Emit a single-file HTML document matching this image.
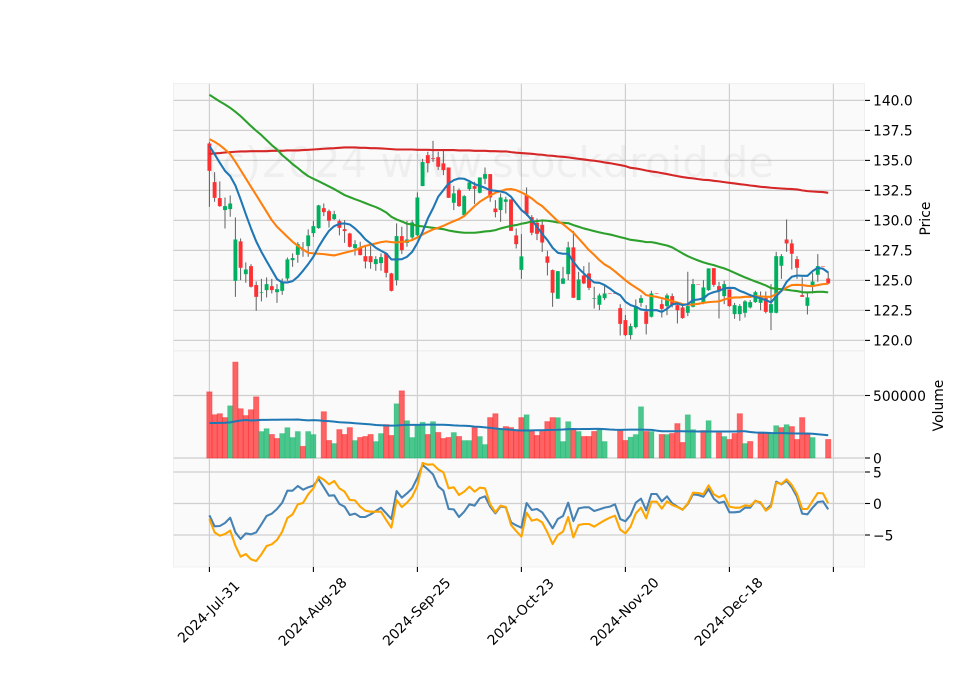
<!DOCTYPE html>
<html lang="en">
<head>
<meta charset="utf-8">
<title>Stock chart</title>
<style>
html,body{margin:0;padding:0;background:#fff;}
svg{display:block;}
text{font-family:"DejaVu Sans","Liberation Sans",sans-serif;font-size:13.89px;fill:#000;}
</style>
</head>
<body>
<svg id="chart" xmlns="http://www.w3.org/2000/svg" width="960" height="690" viewBox="0 0 960 690">
  <rect x="0" y="0" width="960" height="690" fill="#ffffff"/>
  <rect x="173.5" y="83.5" width="691" height="267" fill="#fafafa" stroke="#f0f0f0"/>
  <rect x="173.5" y="351" width="691" height="107" fill="#fafafa" stroke="#f0f0f0"/>
  <rect x="173.5" y="458.5" width="691" height="108.5" fill="#fafafa" stroke="#f0f0f0"/>
  <g id="grid"></g>
  <text x="774" y="177" text-anchor="end" style="font-size:41.67px;fill:rgba(0,0,0,0.045)">(c)2024 www.stockdroid.de</text>
  <g id="volumes"></g>
  <g id="candles"></g>
  <g id="lines"></g>
  <g id="axes"></g>
  <text x="926" y="218.5" text-anchor="middle" dominant-baseline="central" transform="rotate(-90 926 218.5)">Price</text>
  <text x="939" y="405.5" text-anchor="middle" dominant-baseline="central" transform="rotate(-90 939 405.5)">Volume</text>
</svg>
<script>
const dateTickIndex = [0, 20, 40, 60, 80, 100, 120];
const dateTickLabels = ["2024-Jul-31", "2024-Aug-28", "2024-Sep-25", "2024-Oct-23", "2024-Nov-20", "2024-Dec-18", ""];
const priceTicks = [140, 137.5, 135, 132.5, 130, 127.5, 125, 122.5, 120];
const priceTickLabels = ["140.0", "137.5", "135.0", "132.5", "130.0", "127.5", "125.0", "122.5", "120.0"];
const volumeTicks = [500000, 0];
const volumeTickLabels = ["500000", "0"];
const macdTicks = [5, 0, -5];
const macdTickLabels = ["5", "0", "\u22125"];

const open = [
136.41,133.19,131.86,130.86,130.94,124.97,128.25,125.52,126.19,124.61,
123.97,124.19,124.52,124.02,124.13,125.16,126.69,127.13,127.58,127.86,
128.94,129.36,131.02,130.77,130.11,129.94,129.27,128.91,127.69,127.72,
127.02,127.02,126.36,126.44,127.25,125.58,125.02,128.69,128.13,128.58,
128.77,132.86,135.44,135.19,135.27,134.75,134.41,131.47,132.52,130.44,
132.61,132.86,132.30,133.47,133.86,130.99,130.86,131.55,131.75,128.75,
125.88,132.11,130.27,129.80,129.63,127.00,125.86,123.47,124.72,125.52,
127.75,123.36,125.41,125.58,123.47,122.97,123.52,123.92,123.92,122.69,
121.69,120.44,121.11,123.13,122.41,121.97,123.92,123.02,122.86,123.69,
122.94,122.75,122.30,122.80,124.70,123.08,124.19,126.02,124.52,123.69,
124.25,122.19,122.19,122.30,122.75,123.19,123.13,123.52,122.30,122.30,
126.22,128.41,128.08,126.77,123.77,122.88,124.52,125.47,126.18,125.16];
const close = [
134.13,131.88,131.19,131.19,131.41,128.41,126.05,125.91,124.47,123.63,
124.02,124.69,124.19,124.27,124.88,126.75,126.86,128.02,127.52,128.75,
129.52,131.25,130.69,129.97,130.52,129.38,129.11,127.80,128.02,127.11,
126.58,126.52,126.77,126.94,125.63,124.13,128.69,127.52,128.41,129.83,
131.91,134.86,134.77,135.13,134.47,134.19,131.88,132.25,131.19,132.02,
133.16,132.63,133.58,133.86,131.91,130.69,131.91,131.75,129.13,128.02,
127.00,130.52,128.97,128.88,128.16,126.47,123.97,125.77,125.16,127.75,
123.55,125.08,124.75,124.38,123.52,123.75,123.91,123.90,123.90,121.38,
120.44,121.19,122.86,123.52,121.38,123.91,123.90,122.63,123.75,122.94,
122.52,121.86,122.86,124.69,124.68,124.41,126.00,124.63,124.08,124.69,
122.86,122.94,122.86,123.25,123.19,124.02,123.63,122.38,123.02,127.02,
127.02,128.08,127.22,126.05,123.63,123.58,124.91,126.19,126.16,124.75];
const high = [
136.55,134.02,133.25,131.91,132.08,130.25,128.50,126.50,126.36,124.91,
125.13,125.25,125.13,124.69,125.16,126.91,127.25,128.19,128.19,129.25,
129.97,131.30,131.41,130.91,130.80,130.08,130.02,128.97,128.36,128.22,
127.86,127.86,127.02,127.25,127.30,125.63,129.75,129.47,129.97,130.02,
132.33,135.13,135.72,136.63,135.72,135.80,134.41,132.88,132.66,132.11,
133.36,133.22,133.58,134.41,133.86,131.69,132.25,131.97,131.75,129.33,
128.86,132.75,130.44,130.16,130.08,127.47,125.91,125.77,126.13,128.22,
129.13,125.72,126.19,126.50,124.47,123.91,124.61,123.92,123.92,123.02,
122.11,121.41,123.41,123.77,122.94,124.13,123.92,123.41,123.91,123.91,
123.22,122.94,125.72,125.13,124.70,125.02,126.00,126.02,124.88,124.97,
124.25,123.13,123.02,123.36,123.36,124.13,124.08,124.08,124.69,127.38,
127.19,130.08,128.41,127.02,125.25,123.91,125.63,127.19,126.18,125.72];
const low = [
131.13,131.55,131.13,129.33,130.30,123.63,125.02,124.80,124.41,122.47,
123.25,123.58,123.91,123.13,123.80,124.97,126.13,126.47,126.97,126.97,
128.63,129.30,130.36,129.41,130.02,128.75,128.13,127.75,127.08,127.08,
126.00,125.97,125.80,125.80,125.25,124.08,124.58,127.19,127.80,128.36,
128.69,132.86,134.00,134.88,134.19,133.77,131.88,130.86,131.13,130.36,
132.47,131.36,132.25,133.02,131.55,130.25,129.88,130.58,129.13,127.66,
125.13,130.36,128.77,128.36,127.36,125.41,122.80,123.47,124.69,125.02,
123.55,123.36,124.69,124.19,122.66,122.52,123.36,123.90,123.90,120.41,
120.36,120.08,121.00,122.80,120.50,121.91,123.90,121.91,122.11,122.75,
121.41,121.80,122.02,122.75,124.68,123.02,124.13,124.47,121.83,123.02,
122.80,121.80,121.63,121.91,122.66,123.13,122.52,122.25,120.86,122.25,
125.13,127.38,125.91,125.13,123.63,122.16,123.91,124.88,126.16,124.69];

const maFast = [
136.19,135.52,134.80,134.13,133.69,132.91,131.75,130.52,129.33,128.25,
127.38,126.61,125.86,125.11,124.83,124.83,124.94,125.30,125.80,126.36,
126.97,127.80,128.50,129.13,129.52,129.72,129.75,129.66,129.33,128.91,
128.41,128.08,127.72,127.47,127.25,126.75,126.75,126.77,126.97,127.38,
128.13,129.05,130.16,131.00,131.97,132.52,133.08,133.36,133.50,133.47,
133.27,133.02,132.88,132.72,132.52,132.47,132.41,132.30,131.97,131.41,
130.86,130.52,130.02,129.47,128.86,128.36,127.72,127.30,127.22,127.22,
126.55,126.00,125.58,125.16,124.83,124.80,124.61,124.33,124.00,123.77,
123.22,122.94,122.80,122.58,122.52,122.52,122.52,122.38,122.63,122.99,
123.08,122.94,123.02,123.36,123.41,123.50,123.86,124.02,124.13,124.33,
124.38,124.36,124.13,123.97,123.77,123.63,123.50,123.36,123.16,123.69,
124.13,124.88,125.30,125.41,125.38,125.38,125.77,126.05,125.97,125.66];
const maMid = [
136.77,136.55,136.27,135.91,135.52,134.88,134.19,133.50,132.80,132.11,
131.41,130.72,130.02,129.47,129.05,128.63,128.22,127.88,127.58,127.30,
127.25,127.22,127.19,127.13,127.08,127.19,127.30,127.41,127.52,127.72,
127.88,127.97,128.08,128.19,128.25,128.19,128.16,128.22,128.25,128.36,
128.58,128.83,129.05,129.25,129.38,129.55,129.75,129.94,130.11,130.36,
130.77,131.19,131.55,131.83,132.08,132.30,132.44,132.58,132.61,132.52,
132.33,132.11,131.83,131.47,131.19,130.77,130.36,129.94,129.69,129.33,
128.97,128.50,128.02,127.52,127.13,126.69,126.33,126.08,125.75,125.38,
125.02,124.69,124.41,124.13,123.77,123.69,123.63,123.52,123.41,123.27,
123.16,123.02,122.97,122.99,123.05,123.13,123.19,123.22,123.25,123.41,
123.52,123.58,123.58,123.63,123.63,123.69,123.66,123.63,123.63,123.86,
124.13,124.41,124.61,124.63,124.61,124.55,124.52,124.61,124.69,124.72];
const maSlow = [
140.47,140.19,139.91,139.66,139.38,139.05,138.69,138.27,137.86,137.47,
137.11,136.69,136.27,135.91,135.44,135.08,134.69,134.36,134.00,133.69,
133.47,133.27,133.05,132.83,132.61,132.36,132.11,131.94,131.77,131.61,
131.44,131.27,131.11,130.91,130.66,130.30,130.08,129.91,129.72,129.66,
129.55,129.50,129.44,129.38,129.33,129.27,129.16,129.08,129.02,128.97,
128.97,128.97,129.02,129.08,129.11,129.19,129.33,129.44,129.55,129.61,
129.72,129.80,129.91,129.94,130.00,129.97,129.91,129.83,129.80,129.77,
129.61,129.47,129.33,129.22,129.11,129.00,128.91,128.83,128.72,128.61,
128.50,128.38,128.33,128.27,128.19,128.19,128.11,128.00,127.91,127.75,
127.50,127.25,127.02,126.83,126.66,126.50,126.38,126.27,126.13,126.00,
125.83,125.63,125.44,125.25,125.08,124.91,124.75,124.58,124.36,124.30,
124.27,124.22,124.16,124.11,124.02,124.00,124.02,124.05,124.05,124.00];
const maLong = [
135.55,135.58,135.61,135.66,135.69,135.72,135.75,135.75,135.77,135.77,
135.77,135.77,135.80,135.80,135.80,135.83,135.83,135.83,135.86,135.88,
135.91,135.94,135.97,136.00,136.02,136.05,136.08,136.08,136.08,136.05,
136.05,136.02,136.02,136.00,135.97,135.94,135.91,135.91,135.91,135.91,
135.88,135.88,135.88,135.86,135.86,135.86,135.86,135.86,135.83,135.83,
135.83,135.80,135.80,135.80,135.77,135.77,135.75,135.75,135.69,135.64,
135.61,135.58,135.55,135.50,135.47,135.41,135.38,135.33,135.30,135.25,
135.19,135.13,135.08,135.02,134.97,134.91,134.83,134.77,134.69,134.61,
134.52,134.38,134.33,134.25,134.16,134.08,134.02,133.94,133.86,133.77,
133.69,133.61,133.55,133.50,133.44,133.38,133.36,133.30,133.25,133.19,
133.13,133.08,133.02,132.97,132.91,132.86,132.80,132.77,132.72,132.69,
132.66,132.63,132.61,132.58,132.50,132.44,132.41,132.38,132.36,132.30];

const volume = [
529000,346000,354000,323000,418000,767000,394000,339000,386000,489000,
212000,235000,188000,156000,196000,243000,164000,212000,93000,212000,
188000,0,370000,140000,116000,227000,188000,243000,140000,164000,
172000,188000,132000,196000,267000,180000,434000,537000,299000,164000,
267000,286000,188000,291000,204000,156000,164000,204000,172000,140000,
140000,243000,172000,108000,323000,354000,235000,251000,243000,227000,
323000,346000,212000,180000,212000,291000,323000,323000,132000,291000,
227000,212000,172000,172000,212000,227000,132000,0,0,227000,
140000,167000,188000,410000,212000,212000,0,188000,188000,196000,
275000,124000,346000,227000,0,220000,299000,0,201000,172000,
148000,196000,354000,116000,132000,0,196000,196000,196000,259000,
243000,267000,251000,148000,323000,188000,164000,0,0,148000];
const volumeUpDays = [4,10,11,14,15,16,17,19,20,24,28,32,33,36,38,39,40,41,43,47,49,50,52,53,56,61,67,68,69,71,75,76,81,82,83,85,88,92,93,96,99,103,108,109,111,116];
const volumeMa = [
280000,280000,281000,282000,285000,293000,300000,304000,300000,302000,
305000,305000,306000,306000,307000,307000,307000,308000,304000,301000,
303000,301000,297000,295000,291000,286000,284000,282000,278000,275000,
272000,269000,264000,262000,260000,259000,260000,263000,265000,265000,
265000,266000,267000,267000,266000,266000,264000,261000,259000,258000,
256000,251000,249000,245000,241000,236000,232000,229000,226000,222000,
220000,220000,221000,222000,222000,224000,225000,226000,228000,231000,
232000,231000,232000,232000,233000,233000,231000,228000,226000,225000,
226000,227000,227000,227000,226000,225000,219000,214000,214000,214000,
214000,214000,213000,213000,212000,212000,212000,212000,212000,212000,
212000,212000,214000,214000,208000,204000,203000,202000,200000,199000,
199000,198000,197000,196000,196000,196000,194000,190000,186000,182000];

const macdLine = [
-1.88,-3.62,-3.57,-3.10,-2.25,-4.58,-5.63,-4.74,-4.89,-4.58,
-3.31,-1.98,-1.61,-0.87,0.13,2.04,2.04,2.78,2.20,2.57,
2.83,3.89,2.57,1.24,1.30,-0.08,-0.50,-1.83,-1.61,-2.14,
-2.14,-1.72,-1.19,-0.66,-1.56,-2.46,1.98,0.93,1.61,2.41,
4.10,6.11,5.42,4.63,2.72,2.04,-0.87,-0.93,-2.14,-1.30,
-0.13,-0.34,0.82,1.14,-0.50,-1.56,-0.45,-0.61,-2.99,-3.47,
-3.84,0.08,-1.03,-0.87,-1.40,-2.62,-3.94,-2.46,-1.98,0.13,
-2.78,-0.77,-0.61,-0.61,-1.19,-0.93,-0.66,-0.50,-0.13,-2.46,
-2.83,-1.83,0.13,0.77,-1.08,1.51,1.51,0.34,1.14,0.03,
-0.50,-0.98,-0.08,1.46,1.35,1.08,2.30,0.77,0.08,0.29,
-1.40,-1.40,-1.30,-0.66,-0.66,0.45,0.08,-1.03,-0.24,3.47,
3.04,3.62,2.57,1.08,-1.61,-1.72,-0.66,0.24,0.34,-0.93];
const macdSignal = [
-2.46,-4.58,-5.11,-4.84,-4.31,-6.69,-8.44,-8.02,-8.86,-9.13,
-8.07,-6.75,-6.48,-5.79,-4.47,-2.30,-1.72,-0.13,0.08,1.46,
2.41,4.26,3.78,3.04,3.57,2.41,1.88,0.56,0.50,-0.50,
-1.14,-1.30,-1.30,-1.30,-2.62,-3.84,0.56,-0.56,0.13,1.08,
2.83,6.43,6.16,6.22,5.42,4.95,2.41,2.57,1.35,1.88,
2.67,1.88,2.51,2.41,-0.13,-1.40,-0.34,-0.56,-3.41,-4.37,
-5.26,-1.46,-2.72,-2.51,-2.99,-4.58,-6.43,-5.00,-4.47,-2.14,
-5.37,-3.41,-3.25,-3.25,-3.68,-3.15,-2.67,-2.25,-1.93,-4.15,
-4.74,-3.68,-1.56,-0.66,-2.35,0.29,0.29,-0.82,0.34,-0.24,
-0.56,-0.98,0.03,1.72,1.67,1.46,2.88,1.46,0.98,1.35,
-0.50,-0.66,-0.66,-0.29,-0.40,0.40,0.19,-1.14,-0.50,3.31,
3.10,3.84,2.94,1.51,-0.87,-0.87,0.40,1.67,1.61,0.03];

const SVG_NS = "http://www.w3.org/2000/svg";
const xScale = i => 209.4 + 5.2 * i;
const yPrice = v => 100.4 + 12 * (140 - v);
const yVolume = v => 458 - v * 62.5 / 500000;
const yMacd = v => 503.5 - v * 6.3;

function make(parent, tag, attrs, content) {
  const node = document.createElementNS(SVG_NS, tag);
  for (const key in attrs) node.setAttribute(key, attrs[key]);
  if (content !== undefined) node.textContent = content;
  parent.appendChild(node);
  return node;
}

const gridLayer = document.getElementById("grid");
const axesLayer = document.getElementById("axes");
const volumeLayer = document.getElementById("volumes");
const candleLayer = document.getElementById("candles");
const lineLayer = document.getElementById("lines");

function horizontalAxis(ticks, labels, scale, panelName) {
  ticks.forEach((value, k) => {
    const y = scale(value);
    const gridLine = make(gridLayer, "line", {x1: 173.5, x2: 864.5, y1: y, y2: y, stroke: "#cfcfcf", "stroke-width": 1.2});
    
    
    const tick = make(axesLayer, "line", {x1: 865, x2: 870, y1: y, y2: y, stroke: "#000", "stroke-width": 1.1});
    
    
    const label = make(axesLayer, "text", {x: 873, y: y + 1.3, "dominant-baseline": "central"}, labels[k]);
    
    
  });
}
horizontalAxis(priceTicks, priceTickLabels, yPrice, 'price');
horizontalAxis(volumeTicks, volumeTickLabels, yVolume, 'volume');
horizontalAxis(macdTicks, macdTickLabels, yMacd, 'macd');

dateTickIndex.forEach((index, k) => {
  const x = xScale(index);
  const gridLine = make(gridLayer, "line", {x1: x, x2: x, y1: 84, y2: 567, stroke: "#cfcfcf", "stroke-width": 1.2});
  
  
  const tick = make(axesLayer, "line", {x1: x, x2: x, y1: 567, y2: 572, stroke: "#000", "stroke-width": 1.1});
  
  
  if (dateTickLabels[k]) {
    const cx = x - 0.2, cy = 612.3;
    const label = make(axesLayer, "text", {x: cx, y: cy, "text-anchor": "middle", "dominant-baseline": "central", transform: "rotate(-45 " + cx + " " + cy + ")"}, dateTickLabels[k]);
    
    
  }
});

volume.forEach((value, i) => {
  if (value <= 0) return;
  const up = volumeUpDays.includes(i);
  const color = up ? "#00b060" : "#fe3032";
  const top = yVolume(value);
  const bar = make(volumeLayer, "rect", {
    x: xScale(i) - 2.6, y: top, width: 5.2, height: yVolume(0) - top,
    fill: color, "fill-opacity": up ? 0.7 : 0.75, stroke: color, "stroke-opacity": up ? 0.25 : 0.5, "stroke-width": 0.9
  });
  
  
});

open.forEach((o, i) => {
  const c = close[i];
  const x = xScale(i);
  const up = c >= o;
  const wick = make(candleLayer, "line", {x1: x, x2: x, y1: yPrice(high[i]), y2: yPrice(low[i]), stroke: "#606060", "stroke-width": 1});
  
  
  const top = yPrice(Math.max(o, c));
  const bottom = yPrice(Math.min(o, c));
  const body = make(candleLayer, "rect", {x: x - 1.95, y: top, width: 3.9, height: Math.max(bottom - top, 0.5), fill: up ? "#00b060" : "#fe3032"});
  
  
});

function drawLine(series, scale, color, width, name) {
  const d = series.map((v, i) => (i ? "L" : "M") + xScale(i).toFixed(2) + " " + scale(v).toFixed(2)).join("");
  const line = make(lineLayer, "path", {d: d, fill: "none", stroke: color, "stroke-width": width, "stroke-linejoin": "round", "stroke-linecap": "butt"});
  
  
}
drawLine(maLong, yPrice, "#d62728", 2.08, 'moving-average-long');
drawLine(maSlow, yPrice, "#2ca02c", 2.08, 'moving-average-slow');
drawLine(maMid, yPrice, "#ff7f0e", 2.08, 'moving-average-mid');
drawLine(maFast, yPrice, "#1f77b4", 2.08, 'moving-average-fast');
drawLine(volumeMa, yVolume, "#1f77b4", 2.08, 'volume-moving-average');
drawLine(macdLine, yMacd, "#4682b4", 2.08, 'macd-line');
drawLine(macdSignal, yMacd, "#ffa500", 2.08, 'macd-signal-line');
</script>
</body>
</html>
